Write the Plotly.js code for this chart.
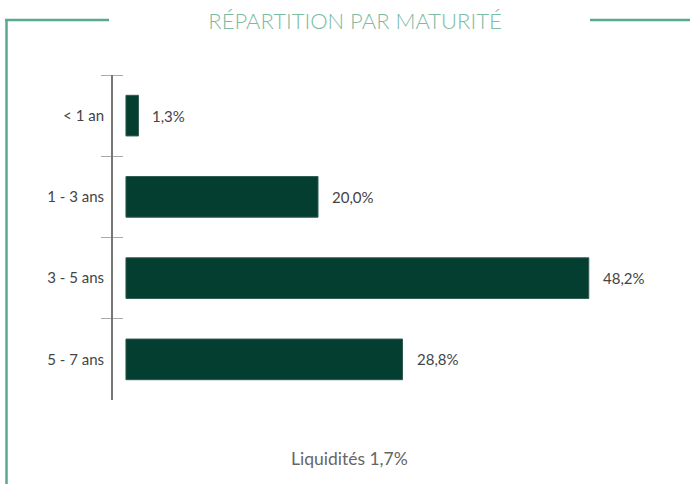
<!DOCTYPE html>
<html>
<head>
<meta charset="utf-8">
<script src="https://cdn.plot.ly/plotly-3.0.1.min.js"></script>
<style>html,body{margin:0;padding:0;background:#fff;}#chart{width:690px;height:484px;}</style>
</head>
<body>
<div id="chart"></div>
<script>
const categories = ["< 1 an", "1 - 3 ans", "3 - 5 ans", "5 - 7 ans"];
const values = [1.3, 20.0, 48.2, 28.8];
const valueLabels = ["1,3%", "20,0%", "48,2%", "28,8%"];
const chartTitle = "RÉPARTITION PAR MATURITÉ";
const footnote = "Liquidités 1,7%";

const W = 690, H = 484;
const L = 113, R = 10, T = 75, B = 84;
const plotW = W - L - R, plotH = H - T - B;
const px = x => (x - L) / plotW;
const py = y => (H - B - y) / plotH;

const lineColor = "#5ba98b";
const barColor = "#033e31";
const font = "Lato, 'Open Sans', sans-serif";

const trace = {
  type: "bar",
  orientation: "h",
  y: categories,
  x: values,
  marker: {color: barColor, line: {color: "#2e5a4f", width: 1}},
  hoverinfo: "none",
  cliponaxis: false
};
const ghost = {
  type: "bar", orientation: "h", y: categories, x: values.map(() => 0),
  yaxis: "y2", hoverinfo: "none", showlegend: false, marker: {color: "rgba(0,0,0,0)"}
};

const annotations = values.map((v, i) => ({
  x: v, y: categories[i], xref: "x", yref: "y",
  text: valueLabels[i], showarrow: false, xanchor: "left", xshift: 12,
  font: {family: font, size: 15, color: "#444"}
}));
annotations.push({
  x: px(349.5), y: py(458), xref: "paper", yref: "paper",
  text: footnote, showarrow: false, xanchor: "center", yanchor: "middle",
  font: {family: font, size: 17.5, color: "#666"}
});

const shapes = [
  {type: "line", xref: "paper", yref: "paper", x0: px(5), x1: px(109), y0: py(20), y1: py(20), line: {color: lineColor, width: 2.5}},
  {type: "line", xref: "paper", yref: "paper", x0: px(6.5), x1: px(6.5), y0: py(19), y1: py(490), line: {color: lineColor, width: 2.5}},
  {type: "line", xref: "paper", yref: "paper", x0: px(590), x1: px(695), y0: py(20), y1: py(20), line: {color: lineColor, width: 2.5}}
];

const xMin = -1.35, xMax = 57.7;

const layout = {
  width: W, height: H,
  margin: {l: L, r: R, t: T, b: B},
  paper_bgcolor: "#fff", plot_bgcolor: "#fff",
  showlegend: false,
  bargap: 0.5,
  title: {
    text: chartTitle, xref: "container", yref: "container",
    x: 355 / W, y: 1 - 21 / H, xanchor: "center", yanchor: "middle",
    font: {family: font, size: 22, color: "#7cbca2", weight: 300}
  },
  xaxis: {range: [xMin, xMax], visible: false, fixedrange: true},
  yaxis: {
    type: "category", categoryorder: "array", categoryarray: categories,
    range: [3.5, -0.5], autorange: false,
    showline: true, linecolor: "#777", linewidth: 2,
    ticks: "outside", tickson: "boundaries", ticklen: 10, tickcolor: "#aaa", tickwidth: 1,
    showgrid: false, zeroline: false, ticklabelstandoff: 4,
    tickfont: {family: font, size: 15, color: "#444"}
  },
  yaxis2: {
    type: "category", categoryorder: "array", categoryarray: categories,
    overlaying: "y", side: "left", anchor: "free", position: 10 / plotW,
    range: [3.5, -0.5], autorange: false,
    showline: false, ticks: "outside", tickson: "boundaries", ticklen: 10, tickcolor: "#aaa", tickwidth: 1,
    showticklabels: false, showgrid: false, zeroline: false
  },
  annotations: annotations,
  shapes: shapes
};

Plotly.newPlot("chart", [trace, ghost], layout, {displayModeBar: false, staticPlot: true});
</script>
</body>
</html>
